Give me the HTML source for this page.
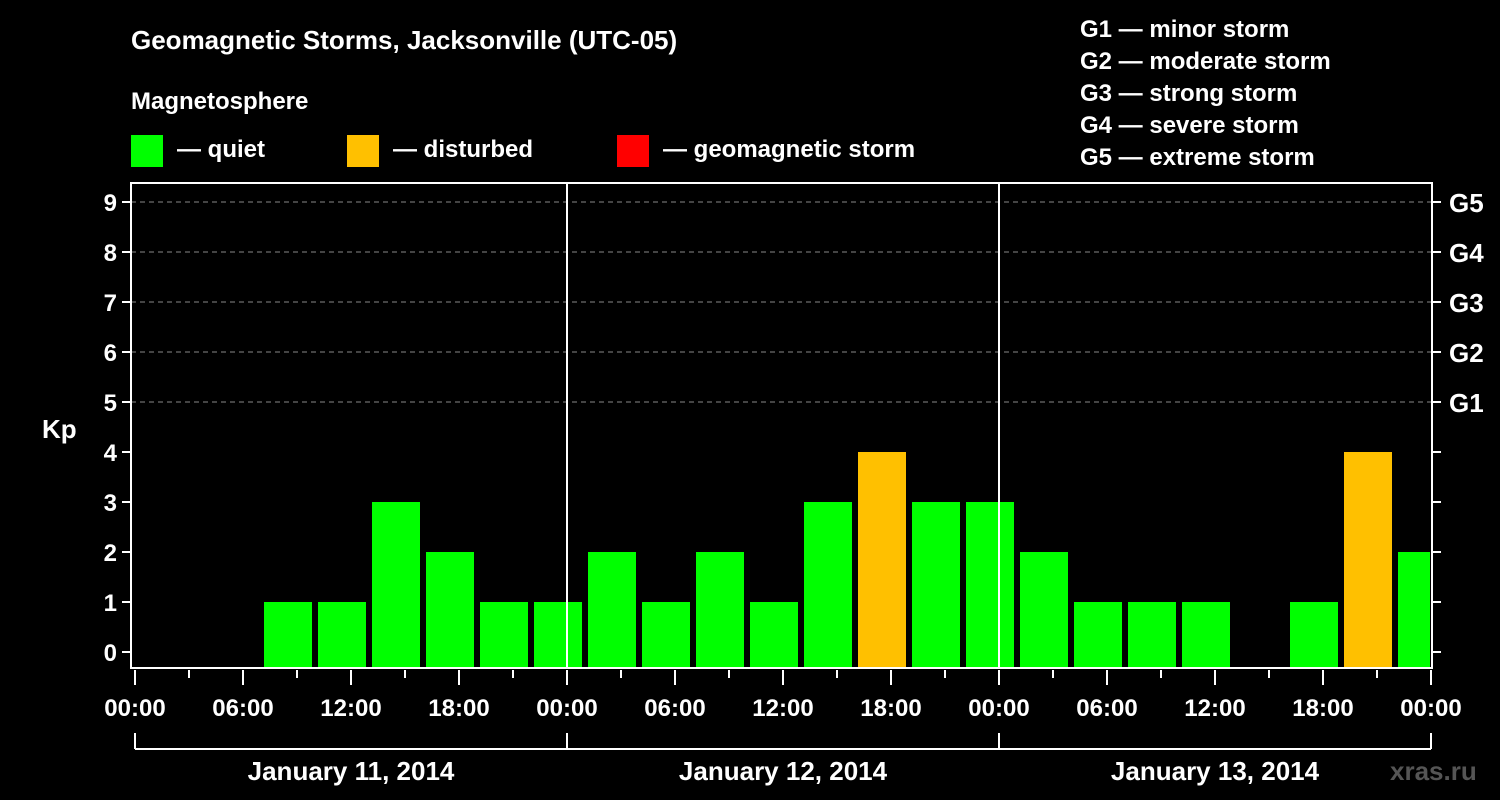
<!DOCTYPE html>
<html><head><meta charset="utf-8"><style>
body{margin:0;background:#000;}
svg{display:block;font-family:"Liberation Sans",Arial,sans-serif;font-weight:bold;}
</style></head><body>
<svg id="chart" width="1500" height="800" viewBox="0 0 1500 800">
<rect width="1500" height="800" fill="#000"/>
<text x="131" y="49" fill="#fff" font-size="26">Geomagnetic Storms, Jacksonville (UTC-05)</text>
<text x="131" y="109" fill="#fff" font-size="24">Magnetosphere</text>
<g><rect x="131" y="135" width="32" height="32" fill="#00ff00"/><text x="177" y="157" fill="#fff" font-size="24">— quiet</text></g>
<g><rect x="347" y="135" width="32" height="32" fill="#ffc000"/><text x="393" y="157" fill="#fff" font-size="24">— disturbed</text></g>
<g><rect x="617" y="135" width="32" height="32" fill="#ff0000"/><text x="663" y="157" fill="#fff" font-size="24">— geomagnetic storm</text></g>
<g fill="#fff" font-size="24">
<text x="1080" y="37">G1 — minor storm</text>
<text x="1080" y="69">G2 — moderate storm</text>
<text x="1080" y="101">G3 — strong storm</text>
<text x="1080" y="133">G4 — severe storm</text>
<text x="1080" y="165">G5 — extreme storm</text>
</g>
<text x="42" y="438" fill="#fff" font-size="26">Kp</text>
<text x="1390" y="780" fill="#555" font-size="26">xras.ru</text>
<g id="grid"></g><g id="bars"></g><g id="axes"></g>
</svg>
<script>
const startHours=[-2,1,4,7,10,13,16,19,22,25,28,31,34,37,40,43,46,49,52,55,58,61,64,67,70];
const kpValues=[null,null,null,1,1,3,2,1,1,2,1,2,1,3,4,3,3,2,1,1,1,null,1,4,2];
const yTicks=[0,1,2,3,4,5,6,7,8,9];
const gLabels=["G1","G2","G3","G4","G5"];
const xTickLabels=["00:00","06:00","12:00","18:00","00:00","06:00","12:00","18:00","00:00","06:00","12:00","18:00","00:00"];
const dayLabels=["January 11, 2014","January 12, 2014","January 13, 2014"];
const NS="http://www.w3.org/2000/svg";
const L=131,R=1432,T=183,B=668,X0=135,PXH=18;
const x=h=>X0+h*PXH;
const y=v=>652-50*v;
function mk(tag,attrs,parent,txt){const e=document.createElementNS(NS,tag);for(const k in attrs)e.setAttribute(k,attrs[k]);if(txt!=null)e.textContent=txt;parent.appendChild(e);return e;}
const grid=document.getElementById('grid'),bars=document.getElementById('bars'),axes=document.getElementById('axes');
yTicks.forEach(v=>{if(v>=5){const g=mk('line',{x1:L,x2:R,y1:y(v),y2:y(v),stroke:'#888','stroke-dasharray':'5,4','stroke-width':1},grid);

}});
startHours.forEach((h,i)=>{const v=kpValues[i];if(v==null)return;
const x1=Math.max(x(h)+3,L+2),x2=Math.min(x(h)+51,R-2);
const col=v>=5?'#ff0000':(v>=4?'#ffc000':'#00ff00');
const r=mk('rect',{x:x1,y:y(v),width:x2-x1,height:B-y(v),fill:col},bars);

});
for(let d=1;d<=2;d++){const l=mk('line',{x1:x(24*d),x2:x(24*d),y1:T,y2:B,stroke:'#fff','stroke-width':2},axes);

}
const fr=mk('rect',{x:L,y:T,width:R-L,height:B-T,fill:'none',stroke:'#fff','stroke-width':2},axes);


yTicks.forEach(v=>{mk('line',{x1:L-9,x2:L,y1:y(v),y2:y(v),stroke:'#fff','stroke-width':2},axes);
mk('line',{x1:R,x2:R+9,y1:y(v),y2:y(v),stroke:'#fff','stroke-width':2},axes);
const t=mk('text',{x:L-14,y:y(v)+9,fill:'#fff','font-size':24,'text-anchor':'end'},axes,String(v));


if(v>=5){const g=mk('text',{x:R+17,y:y(v)+10,fill:'#fff','font-size':26},axes,gLabels[v-5]);

}});
for(let h=0;h<=72;h+=3){const long=h%6===0;mk('line',{x1:x(h),x2:x(h),y1:B+2,y2:long?685:678,stroke:'#fff','stroke-width':2},axes);}
xTickLabels.forEach((s,i)=>{const t=mk('text',{x:x(i*6),y:716,fill:'#fff','font-size':24,'text-anchor':'middle'},axes,s);

});
mk('line',{x1:x(0),x2:x(72),y1:749,y2:749,stroke:'#fff','stroke-width':2},axes);
for(let d=0;d<=3;d++)mk('line',{x1:x(24*d),x2:x(24*d),y1:733,y2:749,stroke:'#fff','stroke-width':2},axes);
dayLabels.forEach((s,i)=>{const t=mk('text',{x:x(24*i+12),y:780,fill:'#fff','font-size':26,'text-anchor':'middle'},axes,s);

});
</script>
</body></html>
